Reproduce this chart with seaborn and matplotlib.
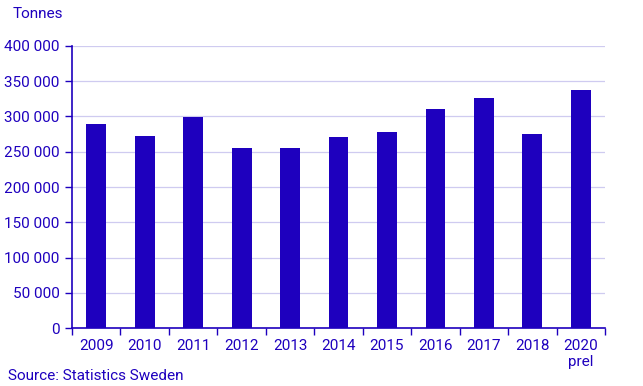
import matplotlib
matplotlib.use("Agg")
import matplotlib.pyplot as plt
import matplotlib.ticker as mticker
import seaborn as sns
import pandas as pd
import numpy as np

sns.set_theme(style="white")
plt.rcParams["font.family"] = ["Roboto", "DejaVu Sans"]

BLUE = "#1E00BE"
GRID = "#CFCBF0"

years = ["2009", "2010", "2011", "2012", "2013", "2014", "2015", "2016", "2017", "2018", "2020\nprel"]
tonnes = [290000, 273000, 299000, 256000, 255000, 271000, 278000, 310000, 326000, 275000, 337000]
yticks = [0, 50000, 100000, 150000, 200000, 250000, 300000, 350000, 400000]

df = pd.DataFrame({"year": years, "tonnes": tonnes})

fig = plt.figure(figsize=(6.43, 3.86), dpi=100)
ax = fig.add_axes([0.112, 0.150, 0.829, 0.731])

sns.barplot(data=df, x="year", y="tonnes", color=BLUE, saturation=1, width=0.41,
            linewidth=0, edgecolor="none", ax=ax, zorder=3)

ax.set_xlim(-0.5, len(years) - 0.5)
ax.set_ylim(0, 400000)
ax.set_yticks(yticks)
ax.yaxis.set_major_formatter(mticker.FuncFormatter(lambda v, p: f"{int(v):,}".replace(",", " ")))
ax.grid(axis="y", color=GRID, linewidth=0.9, zorder=0)
ax.set_xlabel("")
ax.set_ylabel("")

for s in ["top", "right"]:
    ax.spines[s].set_visible(False)
for s in ["left", "bottom"]:
    ax.spines[s].set_color(BLUE)
    ax.spines[s].set_linewidth(1.2)

ax.tick_params(axis="y", colors=BLUE, labelsize=11, length=5, width=1, direction="out", left=True, pad=4)
ax.tick_params(axis="x", which="major", colors=BLUE, labelsize=11, length=0, pad=8)
ax.set_xticks(np.arange(-0.5, len(years)), minor=True)
ax.tick_params(axis="x", which="minor", color=BLUE, length=5, width=1, bottom=True)

fig.text(0.019, 0.965, "Tonnes", color=BLUE, fontsize=11, va="center", ha="left")
fig.text(0.012, 0.025, "Source: Statistics Sweden", color=BLUE, fontsize=11, va="center", ha="left")

fig.savefig("out.png", dpi=100, facecolor="white")
